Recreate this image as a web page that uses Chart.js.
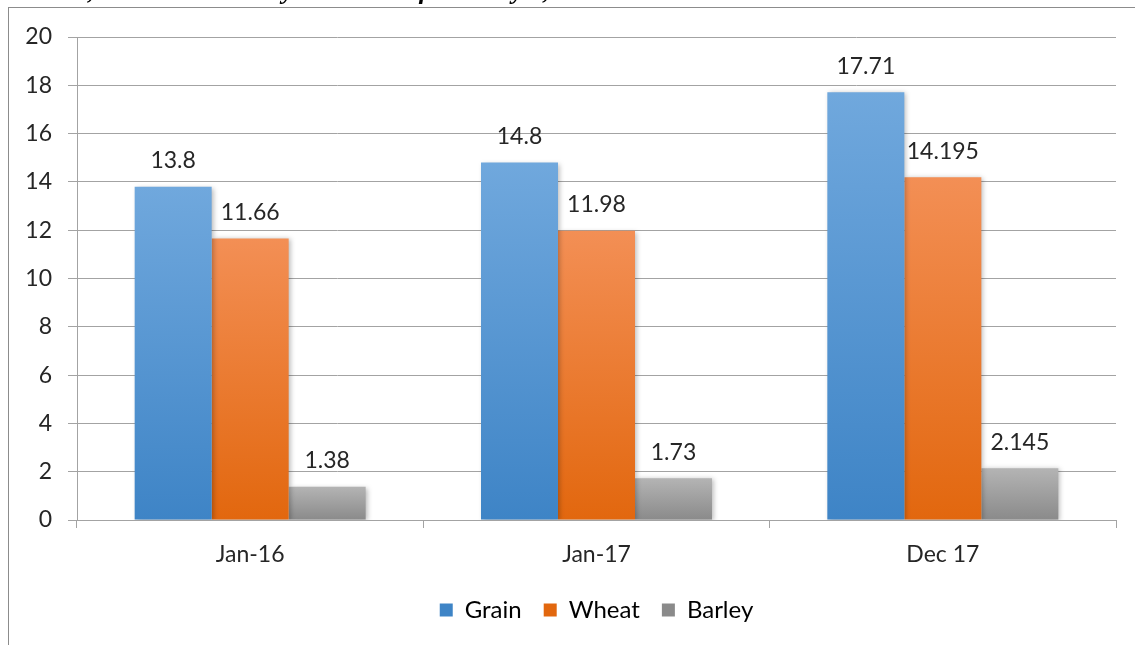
<!DOCTYPE html>
<html>
<head>
<meta charset="utf-8">
<script src="https://cdn.jsdelivr.net/npm/chart.js@4.4.1/dist/chart.umd.min.js"></script>
<style>
  html, body { margin: 0; padding: 0; background: #fff; }
  body { width: 1135px; height: 645px; position: relative; overflow: hidden; }
  #heading {
    position: absolute; left: -4px; top: -22px; white-space: nowrap;
    font: italic bold 26px "Liberation Serif", "DejaVu Serif", serif;
    line-height: 26px; color: #000;
  }
  #frame {
    position: absolute; left: 8px; top: 7px; right: -2px; bottom: -2px;
    border-left: 1px solid #8c8c8c; border-top: 1px solid #8c8c8c;
    background: transparent; pointer-events: none;
  }
  #chart { position: absolute; left: 0; top: 0; }
</style>
</head>
<body>
<canvas id="chart" width="1135" height="645"></canvas>
<div id="heading">e Grains, Wheat and Barley Stocks as of January 1,</div>
<div id="frame"></div>
<script>
// Stock periods and series (million tonnes)
const categories = ["Jan-16", "Jan-17", "Dec 17"];
const grain = [13.8, 14.8, 17.71];
const wheat = [11.66, 11.98, 14.195];
const barley = [1.38, 1.73, 2.145];
const seriesNames = ["Grain", "Wheat", "Barley"];
const yTicks = [0, 2, 4, 6, 8, 10, 12, 14, 16, 18, 20];

const FONT = '"Lato", "Open Sans", sans-serif';
const TEXT = '#262626';
const GRID = '#a3a3a3';

// top / bottom colours for each series' vertical gradient
const shades = [
  ['#70a8dd', '#3e84c6'],
  ['#f38f55', '#e2670e'],
  ['#b4b4b4', '#8a8a8a']
];

function barGradient(idx) {
  return function (ctx) {
    const chart = ctx.chart;
    const area = chart.chartArea;
    if (!area || ctx.type !== 'data') return shades[idx][0];
    const y = chart.scales.y;
    const top = y.getPixelForValue(ctx.raw);
    const bottom = y.getPixelForValue(0);
    const g = chart.ctx.createLinearGradient(0, top, 0, bottom);
    g.addColorStop(0, shades[idx][0]);
    g.addColorStop(1, shades[idx][1]);
    return g;
  };
}

// soft drop shadow behind the bars
const barShadow = {
  id: 'barShadow',
  beforeDatasetsDraw(chart) {
    const c = chart.ctx;
    c.save();
    c.shadowColor = 'rgba(0,0,0,0.28)';
    c.shadowBlur = 5;
    c.shadowOffsetX = 2;
    c.shadowOffsetY = 1;
  },
  afterDatasetsDraw(chart) {
    chart.ctx.restore();
  }
};

// value printed above every bar
const valueLabels = {
  id: 'valueLabels',
  afterDatasetsDraw(chart) {
    const c = chart.ctx;
    c.save();
    c.font = '23px ' + FONT;
    c.fillStyle = TEXT;
    c.textAlign = 'center';
    c.textBaseline = 'middle';
    chart.data.datasets.forEach((ds, i) => {
      chart.getDatasetMeta(i).data.forEach((bar, j) => {
        c.fillText(String(ds.data[j]), bar.x, bar.y - 26);
      });
    });
    c.restore();
  }
};

new Chart(document.getElementById('chart'), {
  type: 'bar',
  data: {
    labels: categories,
    datasets: [
      { label: seriesNames[0], data: grain, backgroundColor: barGradient(0) },
      { label: seriesNames[1], data: wheat, backgroundColor: barGradient(1) },
      { label: seriesNames[2], data: barley, backgroundColor: barGradient(2) }
    ]
  },
  options: {
    responsive: false,
    animation: false,
    devicePixelRatio: 1,
    layout: { padding: { left: 0, right: 19, top: 37, bottom: 13 } },
    datasets: {
      bar: { categoryPercentage: 0.667, barPercentage: 1.0, borderWidth: 0 }
    },
    scales: {
      x: {
        offset: true,
        grid: {
          offset: true,
          drawOnChartArea: false,
          drawTicks: true,
          tickLength: 8,
          color: GRID
        },
        border: { display: true, color: GRID, width: 1 },
        ticks: { color: TEXT, font: { family: FONT, size: 23 }, padding: 13 },
        afterFit(scale) { scale.height = 56; }
      },
      y: {
        min: 0,
        max: 20,
        afterBuildTicks(scale) { scale.ticks = yTicks.map(v => ({ value: v })); },
        grid: { color: GRID, tickLength: 9, lineWidth: 1 },
        border: { display: true, color: GRID, width: 1 },
        ticks: { color: TEXT, font: { family: FONT, size: 23 }, padding: 16 },
        afterFit(scale) { scale.width = 77; }
      }
    },
    plugins: {
      legend: {
        position: 'bottom',
        fullSize: false,
        labels: {
          boxWidth: 13,
          boxHeight: 13,
          padding: 22,
          color: TEXT,
          font: { family: FONT, size: 24 },
          generateLabels(chart) {
            return chart.data.datasets.map((ds, i) => ({
              text: ds.label,
              fillStyle: shades[i][1],
              strokeStyle: shades[i][1],
              lineWidth: 0,
              datasetIndex: i,
              hidden: false
            }));
          }
        }
      },
      tooltip: { enabled: false }
    }
  },
  plugins: [barShadow, valueLabels]
});
</script>
</body>
</html>
